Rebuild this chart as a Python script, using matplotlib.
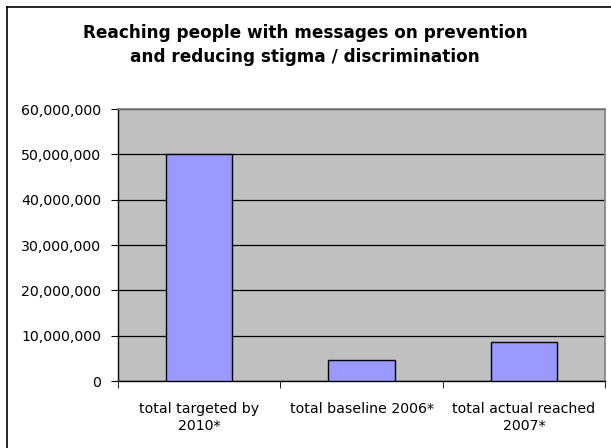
import matplotlib
matplotlib.use("Agg")
import matplotlib.pyplot as plt
from matplotlib.lines import Line2D
from matplotlib.ticker import FuncFormatter, FixedLocator

plt.rcParams["font.family"] = ["DejaVu Sans"]

categories = ["total targeted by\n2010*", "total baseline 2006*", "total actual reached\n2007*"]
values = [50000000, 4600000, 8600000]
title = "Reaching people with messages on prevention\nand reducing stigma / discrimination"

fig = plt.figure(figsize=(6.11, 4.48), dpi=100)
fig.patch.set_facecolor("white")

# outer chart border: only left and top edges are inside the picture
fig.add_artist(Line2D([7 / 611, 7 / 611], [0, 1 - 7 / 448], transform=fig.transFigure,
                      color="black", linewidth=1.2))
fig.add_artist(Line2D([7 / 611, 1], [1 - 7 / 448, 1 - 7 / 448], transform=fig.transFigure,
                      color="black", linewidth=1.2))

ax = fig.add_axes([118 / 611, 67 / 448, 487 / 611, 272 / 448])
ax.set_facecolor("#C0C0C0")

x = range(len(categories))
ax.bar(x, values, width=0.41, color="#9999FF", edgecolor="black", linewidth=1, zorder=3)

ax.set_xlim(-0.5, len(categories) - 0.5)
ax.set_ylim(0, 60000000)
ax.set_yticks(range(0, 60000001, 10000000))
ax.yaxis.set_major_formatter(FuncFormatter(lambda v, p: f"{int(v):,}"))
ax.yaxis.grid(True, color="black", linewidth=0.9, zorder=1)
ax.set_axisbelow(True)

ax.set_xticks(list(x))
ax.set_xticklabels(categories, fontsize=10.2, linespacing=1.25)
ax.xaxis.set_minor_locator(FixedLocator([-0.5, 0.5, 1.5, 2.5]))
ax.tick_params(axis="x", which="major", length=0, pad=15)
ax.tick_params(axis="x", which="minor", length=5, direction="out", color="black")
ax.tick_params(axis="y", length=5, direction="out", labelsize=10.2, pad=7)

for s in ["top", "right"]:
    ax.spines[s].set_color("#808080")
    ax.spines[s].set_linewidth(1.2)
for s in ["left", "bottom"]:
    ax.spines[s].set_color("black")
    ax.spines[s].set_linewidth(1)

fig.text(305 / 611, 1 - 45 / 448, title, ha="center", va="center",
         fontsize=12.2, fontweight="bold", linespacing=1.4)

fig.savefig("out.png", dpi=100)
